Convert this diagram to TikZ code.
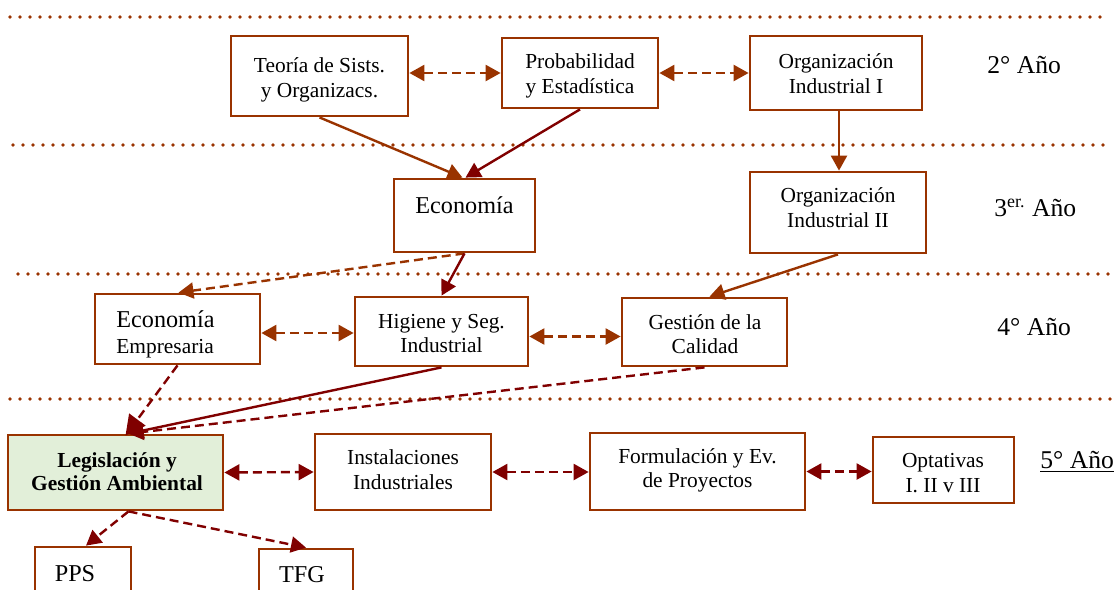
\documentclass[tikz,border=0pt]{standalone}
\usepackage{fontspec}
\setmainfont{Liberation Serif}
\usetikzlibrary{arrows.meta,calc}
\definecolor{brn}{HTML}{993300}
\definecolor{dred}{HTML}{800000}
\definecolor{lgreen}{HTML}{E2EFD9}
\newcommand\smallf{\fontsize{10.7}{12.5}\selectfont}
\newcommand\bigf{\fontsize{12.1}{14}\selectfont}
\newcommand\yearf{\fontsize{12.8}{15}\selectfont}
\begin{document}
\begin{tikzpicture}[x=0.5pt,y=-0.5pt,
  >={Triangle[length=7.5pt,width=8pt]},
  box/.style={draw=brn, line width=1.4pt, inner sep=0pt, fill=white},
  txt/.style={anchor=base, inner sep=0pt, font=\smallf},
  btxt/.style={anchor=base, inner sep=0pt, font=\bigf},
  ytxt/.style={anchor=base west, inner sep=0pt, font=\yearf},
  dotline/.style={brn, line width=1.9pt, line cap=round, dash pattern=on 0pt off 5pt},
  sbrown/.style={brn, line width=1.2pt, ->},
  sred/.style={dred, line width=1.2pt, ->},
  dbrown/.style={brn, line width=1.2pt, dash pattern=on 4.5pt off 2.5pt, ->},
  dredline/.style={dred, line width=1.2pt, dash pattern=on 4.5pt off 2.5pt, ->},
  dbrownboth/.style={brn, line width=1.2pt, dash pattern=on 4.5pt off 2.5pt, <->},
  dredboth/.style={dred, line width=1.2pt, dash pattern=on 4.5pt off 2.5pt, <->}]
\useasboundingbox (0,0) rectangle (1118,589);
\clip (0,0) rectangle (1118,589);

% dotted separators
\draw[dotline] (10,17) -- (1105,17);
\draw[dotline] (13,145) -- (1112,145);
\draw[dotline] (18,274) -- (1114,274);
\draw[dotline] (10,399) -- (1115,399);

% boxes
\node[box, minimum width=88.5pt, minimum height=40pt] (teoria) at (319.5,76) {};
\node[box, minimum width=78pt, minimum height=35pt] (prob) at (580,73) {};
\node[box, minimum width=86pt, minimum height=37pt] (orgI) at (836,73) {};
\node[box, minimum width=70.5pt, minimum height=36.5pt] (eco) at (464.5,215.5) {};
\node[box, minimum width=88pt, minimum height=40.5pt] (orgII) at (838,212.5) {};
\node[box, minimum width=82.5pt, minimum height=35pt] (ecoemp) at (177.5,329) {};
\node[box, minimum width=86.5pt, minimum height=34.5pt] (higiene) at (441.5,331.5) {};
\node[box, minimum width=82.5pt, minimum height=34pt] (calidad) at (704.5,332) {};
\node[box, fill=lgreen, minimum width=107.5pt, minimum height=37.5pt] (legis) at (115.5,472.5) {};
\node[box, minimum width=88pt, minimum height=38pt] (inst) at (403,472) {};
\node[box, minimum width=107.5pt, minimum height=38.5pt] (form) at (697.5,471.5) {};
\node[box, minimum width=70.5pt, minimum height=33pt] (opt) at (943.5,470) {};
\node[box, minimum width=48pt, minimum height=36.5pt] (pps) at (83,583.5) {};
\node[box, minimum width=47pt, minimum height=35.5pt] (tfg) at (306,584.5) {};

% texts
\node[txt] (teoria1) at (319.5,72) {Teoría de Sists.};
\node[txt] (teoria2) at (319.5,97) {y Organizacs.};
\node[txt] (prob1) at (580,68) {Probabilidad};
\node[txt] (prob2) at (580,93) {y Estadística};
\node[txt] (orgI1) at (836,68) {Organización};
\node[txt] (orgI2) at (836,93) {Industrial I};
\node[btxt] (eco1) at (464.5,213) {Economía};
\node[txt] (orgII1) at (838,202) {Organización};
\node[txt] (orgII2) at (838,227) {Industrial II};
\node[btxt, anchor=base west] (ecoemp1) at (116,327) {Economía};
\node[txt, anchor=base west] (ecoemp2) at (116,353) {Empresaria};
\node[txt] (hig1) at (441.5,328) {Higiene y Seg.};
\node[txt] (hig2) at (441.5,352) {Industrial};
\node[txt] (cal1) at (705,329) {Gestión de la};
\node[txt] (cal2) at (705,353) {Calidad};
\node[txt, font=\smallf\bfseries] (legis1) at (117,467) {Legislación y};
\node[txt, font=\smallf\bfseries] (legis2) at (117,490) {Gestión Ambiental};
\node[txt] (inst1) at (403,464) {Instalaciones};
\node[txt] (inst2) at (403,489) {Industriales};
\node[txt] (form1) at (697.5,463) {Formulación y Ev.};
\node[txt] (form2) at (697.5,487) {de Proyectos};
\node[txt] (opt1) at (943,467) {Optativas};
\node[txt] (opt2) at (943,492) {I. II v III};
\node[btxt] (pps1) at (75,581) {PPS};
\node[btxt] (tfg1) at (302,582) {TFG};

% year labels
\node[ytxt] (y2) at (987,73) {2° Año};
\node[ytxt] (y3) at (994,216) {3\textsuperscript{er.} Año};
\node[ytxt] (y4) at (997,335) {4° Año};
\node[ytxt] (y5) at (1040,468) {\underline{5° Año}};

% connectors 2nd year
\draw[dbrownboth] (teoria.east |- prob.west) -- (prob.west);
\draw[dbrownboth] (prob.east) -- (orgI.west);
\draw[sbrown] (teoria.south) -- ($(eco.north)+(-2,0)$);
\draw[sred] (prob.south) -- ($(eco.north)+(1,0)$);
\draw[sbrown] ($(orgI.south)+(3,0)$) -- ($(orgI.south |- orgII.north)+(3,0)$);

% 3rd year
\draw[dbrown] (eco.south) -- ($(ecoemp.north)+(1,0)$);
\draw[sred] (eco.south) -- (higiene.north);
\draw[sbrown] (orgII.south) -- ($(calidad.north)+(5,0)$);

% 4th year
\draw[dbrownboth] ($(ecoemp.east)+(0,4)$) -- ($(ecoemp.east -| higiene.west)+(0,4)$);
\draw[dbrownboth] ($(higiene.east)+(0,5)$) -- ($(higiene.east -| calidad.west)+(0,5)$);
\coordinate (lt) at ($(legis.north)+(13,0)$);
\draw[sred] (higiene.south) -- (lt);
\draw[dredline] (calidad.south) -- (lt);
\draw[dredline, -{Triangle[length=10pt,width=10pt]}] (ecoemp.south) -- ($(lt)+(-3,2)$);

% 5th year
\draw[dredboth] (legis.east) -- (inst.west);
\draw[dredboth] (inst.east) -- (inst.east -| form.west);
\draw[dredboth] (form.east) -- (form.east -| opt.west);
\coordinate (lb) at ($(legis.south)+(13,0)$);
\draw[dredline] (lb) -- ($(pps.north)+(3,0)$);
\draw[dredline] (lb) -- (tfg.north);
\end{tikzpicture}
\end{document}
